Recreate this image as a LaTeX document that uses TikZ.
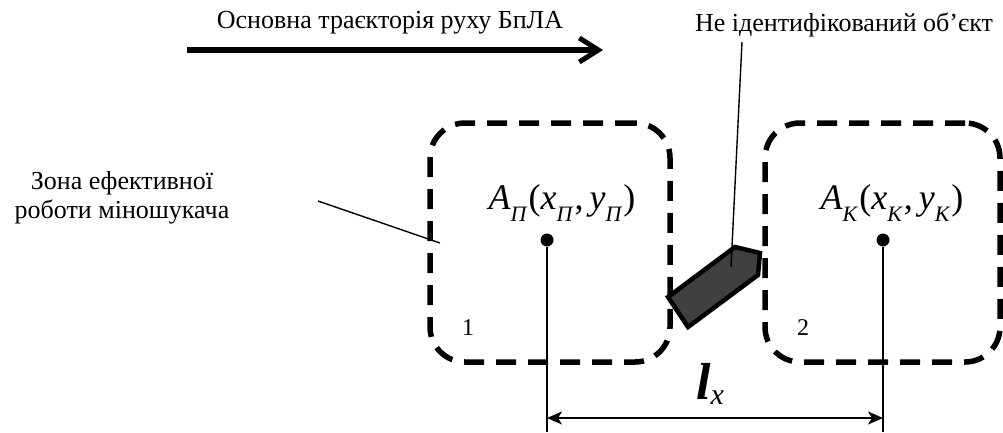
\documentclass[tikz,border=0pt]{standalone}
\usepackage{fontspec}
\setmainfont{Liberation Serif}
\usepackage{tikz}
\usetikzlibrary{arrows.meta, positioning, calc}
\definecolor{objgray}{RGB}{64,64,64}
\newcommand{\lowsub}[1]{\raisebox{-0.75ex}{\fontsize{22}{22}\selectfont #1}}
\tikzset{
  zone/.style={rectangle, draw=black, line width=5.5pt,
    dash pattern=on 20pt off 12pt, rounded corners=35pt, inner sep=0pt},
  pnt/.style={circle, fill=black, minimum size=13pt, inner sep=0pt},
  leader/.style={line width=1.4pt, color=black},
  trajarrow/.style={-{Straight Barb[length=19pt, width=24pt, line width=5pt]},
    line width=5.5pt},
  dimarrow/.style={{Stealth[length=15pt, width=13pt, inset=4pt]}-{Stealth[length=15pt, width=13pt, inset=4pt]},
    line width=1.6pt},
  txt/.style={font=\fontsize{26}{29}\selectfont, inner sep=0pt, align=center},
  coordlbl/.style={font=\fontsize{36}{38}\selectfont, inner sep=0pt},
  numlbl/.style={font=\fontsize{24}{24}\selectfont, inner sep=0pt},
  objstyle/.style={draw=black, fill=objgray, line width=4.5pt, line join=miter}
}

\begin{document}
\begin{tikzpicture}[x=1pt, y=-1pt]
  \useasboundingbox (0,0) rectangle (1003,432);

  % Trajectory of the UAV
  \node[txt] (traj) at (390,23) {Основна траєкторія руху БпЛА};
  \coordinate (trajA) at (187,50);
  \coordinate (trajB) at (603,50);
  \draw[trajarrow] (trajA) -- (trajB);

  % Zones of the mine detector
  \node[zone, minimum width=240pt, minimum height=239pt] (zone1) at (550,242.5) {};
  \node[zone, minimum width=235pt, minimum height=239pt] (zone2) at (882.5,242.5) {};
  \node[numlbl] (n1) at (468,328) {1};
  \node[numlbl] (n2) at (803,328) {2};

  % Points
  \node[pnt] (p1) at (547,240) {};
  \node[pnt] (p2) at (883,240) {};
  \node[coordlbl] (a1) at (562,203)
    {\textit{A}\lowsub{\textit{П}}\kern1pt(\textit{x}\lowsub{\textit{П}}\kern1pt,\,\textit{y}\lowsub{\textit{П}}\kern1pt)};
  \node[coordlbl] (a2) at (892,203)
    {\textit{A}\lowsub{\textit{К}}\kern1pt(\textit{x}\lowsub{\textit{К}}\kern1pt,\,\textit{y}\lowsub{\textit{К}}\kern1pt)};

  % Unidentified object
  \draw[objstyle] (668,297) -- (735,247) -- (760,253) -- (758,275) -- (688,327) -- cycle;
  \node[txt] (objlbl) at (844,25) {Не ідентифікований об’єкт};
  \coordinate (objtop) at (742,42);
  \coordinate (objin) at (731,267);
  \draw[leader] (objtop) -- (objin);

  % Zone label
  \node[txt] (zona) at (122,198) {Зона ефективної\\роботи міношукача};
  \coordinate (zonaA) at (318,201);
  \coordinate (zonaB) at (440,243);
  \draw[leader] (zonaA) -- (zonaB);

  % Distance
  \coordinate (d1) at (547,432);
  \coordinate (d2) at (883,432);
  \coordinate (m1) at (547,418);
  \coordinate (m2) at (883,418);
  \draw[leader] (p1) -- (d1);
  \draw[leader] (p2) -- (d2);
  \draw[dimarrow] (m1) -- (m2);
  \node[inner sep=0pt] (lx) at (710,384)
    {{\fontsize{52}{52}\selectfont\bfseries\itshape l}\raisebox{-1.1ex}{\fontsize{30}{30}\selectfont\itshape x}};
\end{tikzpicture}
\end{document}
